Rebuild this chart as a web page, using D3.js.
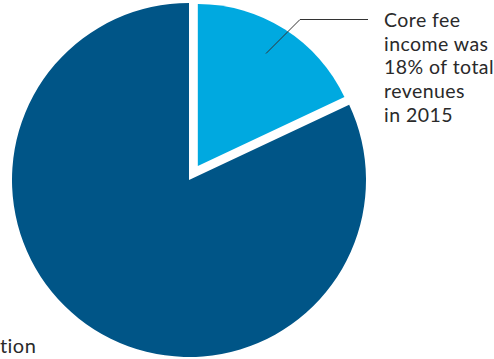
<!DOCTYPE html>
<html><head><meta charset="utf-8">
<script src="https://cdn.jsdelivr.net/npm/d3@7"></script>
<style>body{margin:0;background:#fff}svg{display:block}text{font-family:Lato,"Open Sans",sans-serif}</style>
</head><body>
<script>
const categories = ["Core fee income", "Other revenues"];
const shares = [18, 82];
const colors = ["#00a9e0", "#005587"];
const annotationLines = ["Core fee", "income was", "18% of total", "revenues", "in 2015"];
const footText = "tion";

const W = 494, H = 359;
const svg = d3.select("body").append("svg").attr("width", W).attr("height", H);
const cx = 189, cy = 180, R = 177;
const pie = d3.pie().sort(null).value(d => d)(shares);
const g = svg.append("g").attr("transform", `translate(${cx},${cy})`);
const arcMain = d3.arc().innerRadius(0).outerRadius(R);
const arcSmall = d3.arc().innerRadius(0).outerRadius(162);
const offset = 16.5;
pie.forEach((p, i) => {
  if (i === 0) {
    const mid = (p.startAngle + p.endAngle) / 2;
    g.append("path").attr("d", arcSmall(p)).attr("fill", colors[i])
      .attr("transform", `translate(${Math.sin(mid) * offset},${-Math.cos(mid) * offset})`);
  } else {
    g.append("path").attr("d", arcMain(p)).attr("fill", colors[i]);
  }
});
svg.append("polyline").attr("points", "266,53.5 300,19.5 368,19.5")
  .attr("fill", "none").attr("stroke", "#333").attr("stroke-width", 1);
svg.append("g").selectAll("text").data(annotationLines).join("text")
  .attr("x", 384).attr("y", (d, i) => 27 + i * 23.7)
  .attr("fill", "#2a2a2a").attr("font-size", 19.5).attr("letter-spacing", 0.45).text(d => d);
svg.append("text").attr("x", 0).attr("y", 353).attr("fill", "#2a2a2a").attr("font-size", 20).attr("letter-spacing", 0.45).text(footText);
</script>
</body></html>
